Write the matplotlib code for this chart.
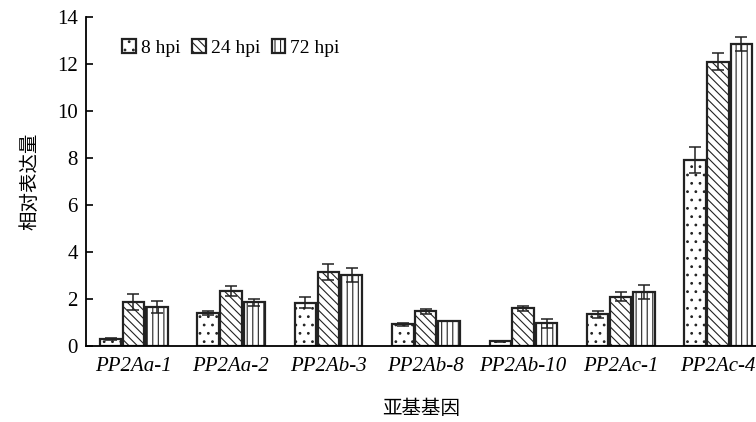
import matplotlib
matplotlib.use("Agg")
import matplotlib.pyplot as plt
import numpy as np

plt.rcParams['hatch.linewidth'] = 0.8

genes = ["PP2Aa-1", "PP2Aa-2", "PP2Ab-3", "PP2Ab-8", "PP2Ab-10", "PP2Ac-1", "PP2Ac-4"]
series = ["8 hpi", "24 hpi", "72 hpi"]
v8 = [0.30, 1.40, 1.85, 0.92, 0.20, 1.35, 7.90]
v24 = [1.87, 2.34, 3.15, 1.48, 1.60, 2.10, 12.10]
v72 = [1.66, 1.87, 3.02, 1.05, 0.97, 2.30, 12.85]
e8 = [0.05, 0.10, 0.25, 0.06, 0.03, 0.15, 0.55]
e24 = [0.35, 0.20, 0.35, 0.10, 0.12, 0.20, 0.35]
e72 = [0.25, 0.15, 0.30, 0.00, 0.20, 0.30, 0.30]
yticks = [0, 2, 4, 6, 8, 10, 12, 14]

fig = plt.figure(figsize=(7.56, 4.22), dpi=100)
ax = fig.add_axes([0.114, 0.18, 0.886, 0.78])

x = np.arange(len(genes))
w = 0.22
offsets = [-0.235, 0.0, 0.24]
hatches = ['..', '\\\\\\\\', '|||']
vals = [v8, v24, v72]
errs = [e8, e24, e72]
handles = []
for i in range(3):
    b = ax.bar(x + offsets[i], vals[i], w, color='white', edgecolor='#222222',
               linewidth=1.6, hatch=hatches[i], label=series[i], zorder=2)
    ax.errorbar(x + offsets[i], vals[i], yerr=errs[i], fmt='none', ecolor='#222222',
                elinewidth=1.1, capsize=4, capthick=1.1, zorder=3)
    handles.append(b)

ax.set_xlim(-0.485, 6.39)
ax.set_ylim(0, 14)
ax.set_yticks(yticks)
ax.set_yticklabels([str(t) for t in yticks], fontfamily='Liberation Serif', fontsize=15)
ax.set_xticks(x)
ax.set_xticklabels(genes, fontfamily='Liberation Serif', fontstyle='italic', fontsize=15)
ax.tick_params(axis='y', direction='in', length=5, width=1.2, pad=6)
ax.tick_params(axis='x', length=0, pad=8)
ax.spines['top'].set_visible(False)
ax.spines['right'].set_visible(False)
ax.spines['left'].set_linewidth(1.3)
ax.spines['bottom'].set_linewidth(1.3)

ax.set_ylabel("相对表达量", fontfamily='Noto Sans CJK SC', fontsize=14, labelpad=12)
ax.set_xlabel("亚基基因", fontfamily='Noto Sans CJK SC', fontsize=14, labelpad=16)

leg = ax.legend(handles=handles, loc='upper left', bbox_to_anchor=(0.028, 0.985), ncol=3,
                frameon=False, prop={'family': 'Liberation Serif', 'size': 14},
                handlelength=0.7, handleheight=0.7, handletextpad=0.25, columnspacing=0.6)

fig.savefig("out.png", dpi=100)
